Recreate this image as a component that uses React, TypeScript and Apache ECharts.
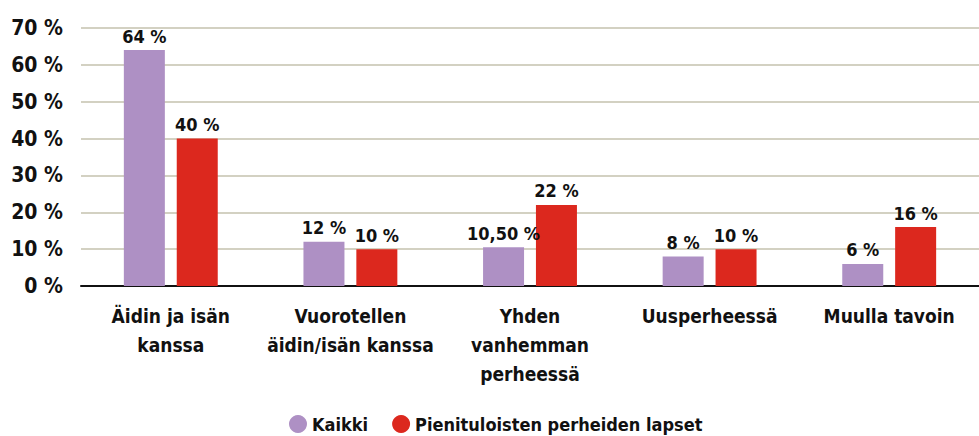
import React, { useEffect, useRef } from "react";
import * as echarts from "echarts";

const categories = [
  "Äidin ja isän\nkanssa",
  "Vuorotellen\näidin/isän kanssa",
  "Yhden\nvanhemman\nperheessä",
  "Uusperheessä",
  "Muulla tavoin",
];
const kaikki = [64, 12, 10.5, 8, 6];
const pienituloiset = [40, 10, 22, 10, 16];
const seriesNames = ["Kaikki", "Pienituloisten perheiden lapset"];

const FONT = "'DejaVu Sans Condensed', 'Liberation Sans Narrow', sans-serif";

const fmt = (v: number) =>
  (Number.isInteger(v) ? String(v) : v.toFixed(2).replace(".", ",")) + " %";

export default function App() {
  const ref = useRef<HTMLDivElement>(null);
  useEffect(() => {
    document.body.style.margin = "0";
    const chart = echarts.init(ref.current!, undefined, { renderer: "svg" });
    const label = {
      show: true,
      position: "top" as const,
      distance: 5,
      fontFamily: FONT,
      fontWeight: "bold" as const,
      fontSize: 18,
      color: "#111",
      formatter: (p: any) => fmt(p.value),
    };
    chart.setOption({
      animation: false,
      textStyle: { fontFamily: FONT },
      grid: { left: 81, right: 0, top: 28, bottom: 150 },
      legend: {
        top: 410,
        left: 284,
        icon: "circle",
        itemWidth: 18,
        itemHeight: 18,
        itemGap: 24,
        textStyle: { fontFamily: FONT, fontWeight: "bold", fontSize: 18, color: "#111" },
        data: seriesNames,
      },
      xAxis: {
        type: "category",
        data: categories,
        axisLine: { lineStyle: { color: "#111", width: 2 } },
        axisTick: { show: false },
        axisLabel: {
          interval: 0,
          margin: 15,
          fontFamily: FONT,
          fontWeight: "bold",
          fontSize: 19,
          lineHeight: 29,
          color: "#111",
        },
      },
      yAxis: {
        type: "value",
        min: 0,
        max: 70,
        interval: 10,
        axisLabel: {
          margin: 18,
          fontFamily: FONT,
          fontWeight: "bold",
          fontSize: 21,
          color: "#111",
          formatter: (v: number) => v + " %",
        },
        splitLine: { lineStyle: { color: "#d3d1c2", width: 2 } },
      },
      series: [
        {
          name: seriesNames[0],
          type: "bar",
          data: kaikki,
          barWidth: 41,
          barGap: "29%",
          itemStyle: { color: "#ae90c4" },
          label,
        },
        {
          name: seriesNames[1],
          type: "bar",
          data: pienituloiset,
          barWidth: 41,
          barGap: "29%",
          itemStyle: { color: "#dc281e" },
          label,
        },
      ],
    });
    return () => chart.dispose();
  }, []);
  return <div ref={ref} style={{ width: 979, height: 436 }} />;
}
